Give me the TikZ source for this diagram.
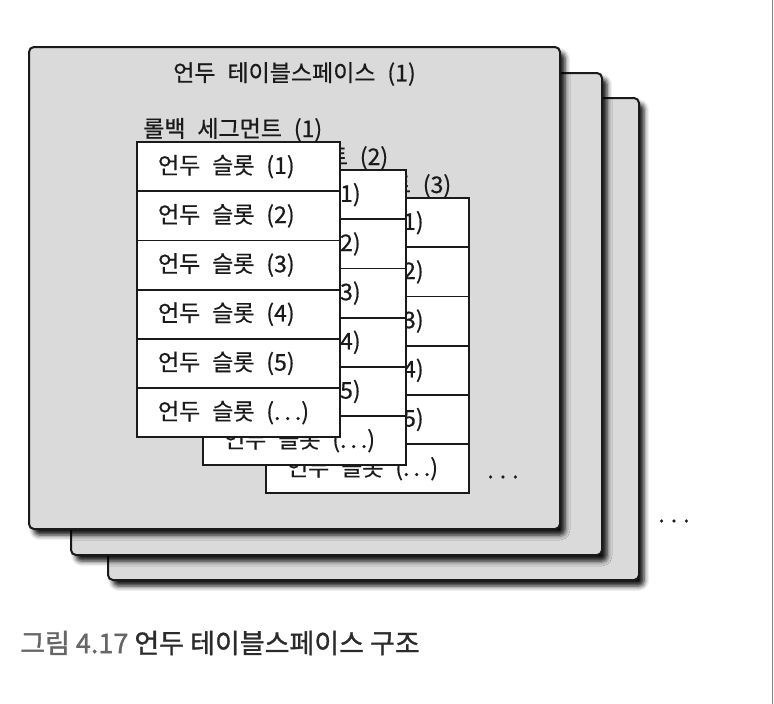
\documentclass[tikz,border=0pt]{standalone}
\usepackage{fontspec}
\setmainfont{Noto Sans CJK KR}[WordSpace=2.3, FakeBold=0.6]
\newfontfamily\capfont{Noto Sans CJK KR}[FakeBold=1.2]
\usetikzlibrary{shadows.blur}
\definecolor{spacegray}{HTML}{DADADA}
\definecolor{inkgray}{HTML}{1A1A1A}
\definecolor{capgray}{HTML}{666666}
\definecolor{capdark}{HTML}{2B2B2B}
\newcommand{\slotdots}{.\kern4pt.\kern4pt.}
\tikzset{
  space box/.style={rectangle, rounded corners=5pt,
          minimum width=531pt, minimum height=482pt,
          fill=spacegray, draw=inkgray, line width=2pt,
          blur shadow={shadow xshift=5pt, shadow yshift=-6pt,
                       shadow blur radius=5pt, shadow opacity=95}},
  slot box/.style={rectangle, minimum width=203pt, minimum height=49.2pt,
          inner xsep=0pt, fill=white, draw=inkgray, line width=1.8pt,
          text=inkgray, font=\fontsize{23}{25}\selectfont},
  seg label/.style={anchor=base west, inner sep=0pt,
          text=inkgray, font=\fontsize{23}{25}\selectfont},
  plain label/.style={inner sep=0pt, text=inkgray,
          font=\fontsize{23}{25}\selectfont}
}
\begin{document}
\begin{tikzpicture}[x=1pt, y=-1pt]
    \useasboundingbox (0,0) rectangle (774,704);

    % three undo tablespaces, back to front
    \node[space box] (Space_3) at (373.5,339) {};
    \node[space box] (Space_2) at (336.5,314) {};
    \node[space box] (Space_1) at (294.5,288) {};
    \node[plain label] (Space_1_Title) at (294.5,74) {언두 테이블스페이스 (1)};

    % rollback segments with their undo slots
    \foreach \s/\sx/\sy in {3/266/198, 2/203/170, 1/137/142} {
      \node[seg label] (Seg_\s_Label) at (\sx+6,\sy-5) {롤백 세그먼트 (\s)};
      \foreach \i/\t in {1/1, 2/2, 3/3, 4/4, 5/5, 6/{\slotdots}} {
        \node[slot box] (Seg_\s_Slot_\i) at ({\sx+101.5},{\sy+(\i-0.5)*49.2})
              {\makebox[161pt][l]{언두 슬롯 (\t)}};
      }
    }

    % more segments, more tablespaces
    \node[plain label] (Seg_Dots) at (503,477) {.\kern6pt.\kern6pt.};
    \node[plain label] (Space_Dots) at (674,521) {.\kern6pt.\kern6pt.};

    % caption
    \node[anchor=west, inner sep=0pt, font=\capfont\fontsize{27}{30}\selectfont]
          (Caption) at (20,643)
          {\textcolor{capgray}{그림 4.17} \textcolor{capdark}{언두 테이블스페이스 구조}};

    % right edge of the scan
    \draw[color=gray, line width=1.5pt] (772.5,0) -- (772.5,704);

\end{tikzpicture}
\end{document}
